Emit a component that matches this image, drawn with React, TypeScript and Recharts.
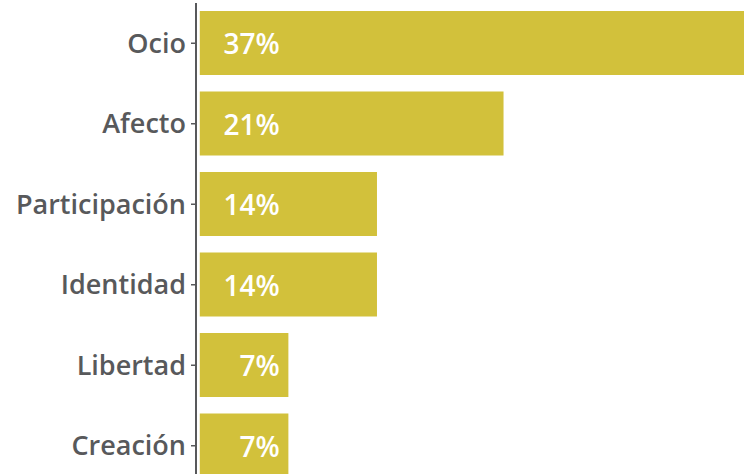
import { BarChart, Bar, XAxis, YAxis, LabelList } from 'recharts';

const categories = ['Ocio', 'Afecto', 'Participación', 'Identidad', 'Libertad', 'Creación'];
const percentLabels = ['37%', '21%', '14%', '14%', '7%', '7%'];
// bar lengths as drawn in the picture (Ocio runs off the right edge)
const barLengths = [43, 24, 14, 14, 7, 7];

const data = categories.map((name, i) => ({
  name,
  value: barLengths[i],
  label: percentLabels[i],
}));

const FONT = '"Open Sans", "DejaVu Sans", sans-serif';

function ValueLabel(props: any) {
  const { x, y, height, index } = props;
  return (
    <text
      x={x + 80}
      y={y + height / 2}
      textAnchor="end"
      dominantBaseline="central"
      fill="#ffffff"
      fontSize={28}
      fontWeight={600}
      fontFamily={FONT}
    >
      {percentLabels[index]}
    </text>
  );
}

function App() {
  return (
    <div style={{ position: 'absolute', left: 0, top: 0, width: 744, height: 474, overflow: 'hidden', background: '#fff' }}>
      <BarChart
        width={744}
        height={486}
        data={data}
        layout="vertical"
        margin={{ top: 3, right: 0, left: 0, bottom: 0 }}
        barSize={64}
      >
        <XAxis type="number" hide domain={[-0.3, 43]} allowDataOverflow />
        <YAxis
          type="category"
          dataKey="name"
          width={196}
          axisLine={{ stroke: '#58595b', strokeWidth: 2 }}
          tickLine={{ stroke: '#58595b', strokeWidth: 1.5 }}
          tickSize={5}
          tickMargin={5}
          tick={{ fill: '#58595b', fontSize: 27, fontWeight: 600, fontFamily: FONT }}
        />
        <Bar dataKey="value" fill="#d2c13b" isAnimationActive={false}>
          <LabelList dataKey="label" content={<ValueLabel />} />
        </Bar>
      </BarChart>
    </div>
  );
}

export default App;
